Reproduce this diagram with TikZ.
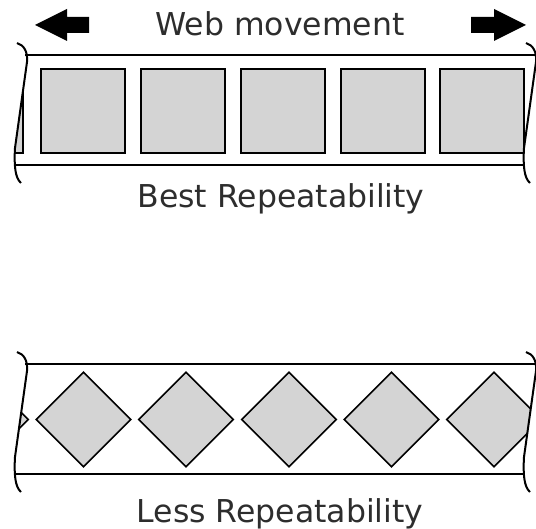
\documentclass[tikz,border=0pt]{standalone}
\usepackage{fontspec}
\setmainfont{DejaVu Sans}
\usepackage{xcolor}
\usetikzlibrary{shapes.geometric,positioning}
\definecolor{webgray}{RGB}{212,212,212}
\definecolor{labelgray}{RGB}{45,45,45}

\begin{document}
\begin{tikzpicture}[x=1pt, y=-1pt, line width=2pt,
    label/.style={font=\fontsize{31.5}{36}\selectfont, text=labelgray, anchor=base, inner sep=0pt},
    frame/.style={draw, fill=webgray, line width=1.7pt, minimum size=84pt, inner sep=0pt},
    rhomb/.style={draw, fill=webgray, diamond, line width=1.6pt, minimum width=95pt, minimum height=95pt, inner sep=0pt},
    bigarrow/.style={fill=black, draw=none}]
    \useasboundingbox (0,0) rectangle (536,529);

    % Direction arrows and title
    \fill[bigarrow] (35,25) -- (67,9) -- (67,17) -- (89,17) -- (89,33) -- (67,33) -- (67,41) -- cycle;
    \fill[bigarrow] (526,25) -- (494,9) -- (494,17) -- (471,17) -- (471,33) -- (494,33) -- (494,41) -- cycle;
    \node [label] (title) at (280,36) {Web movement};

    % Web with square frames
    \begin{scope}
        \clip (17,43) .. controls (24,45) and (28,52) .. (27,62) -- (15,148) .. controls (14,165) and (15,178) .. (21,183)
            -- (530,183) .. controls (524,178) and (523,165) .. (524,148) -- (536,62) .. controls (537,52) and (533,45) .. (526,43) -- cycle;
        \foreach \x/\n in {-19/0,83/1,183/2,283/3,383/4,482/5}
            \node [frame] (sq\n) at (\x,111) {};
    \end{scope}
    \draw (25,55) -- (536,55);
    \draw (15,165) -- (524,165);
    \draw (17,43) .. controls (24,45) and (28,52) .. (27,62) -- (15,148) .. controls (14,165) and (15,178) .. (21,183);
    \draw (526,43) .. controls (533,45) and (537,52) .. (536,62) -- (524,148) .. controls (523,165) and (524,178) .. (530,183);
    \node [label] (best) at (281,208) {Best Repeatability};

    % Web with diamond frames
    \begin{scope}[shift={(0,309)}]
        \begin{scope}
            \clip (17,43) .. controls (24,45) and (28,52) .. (27,62) -- (15,148) .. controls (14,165) and (15,178) .. (21,183)
                -- (530,183) .. controls (524,178) and (523,165) .. (524,148) -- (536,62) .. controls (537,52) and (533,45) .. (526,43) -- cycle;
            \foreach \x/\n in {-19/0,83.5/1,186/2,289/3,391.5/4,494/5}
                \node [rhomb] (dm\n) at (\x,110.5) {};
        \end{scope}
        \draw (25,55) -- (536,55);
        \draw (15,165) -- (524,165);
        \draw (17,43) .. controls (24,45) and (28,52) .. (27,62) -- (15,148) .. controls (14,165) and (15,178) .. (21,183);
        \draw (526,43) .. controls (533,45) and (537,52) .. (536,62) -- (524,148) .. controls (523,165) and (524,178) .. (530,183);
        \node [label] (less) at (280,213) {Less Repeatability};
    \end{scope}
\end{tikzpicture}
\end{document}
